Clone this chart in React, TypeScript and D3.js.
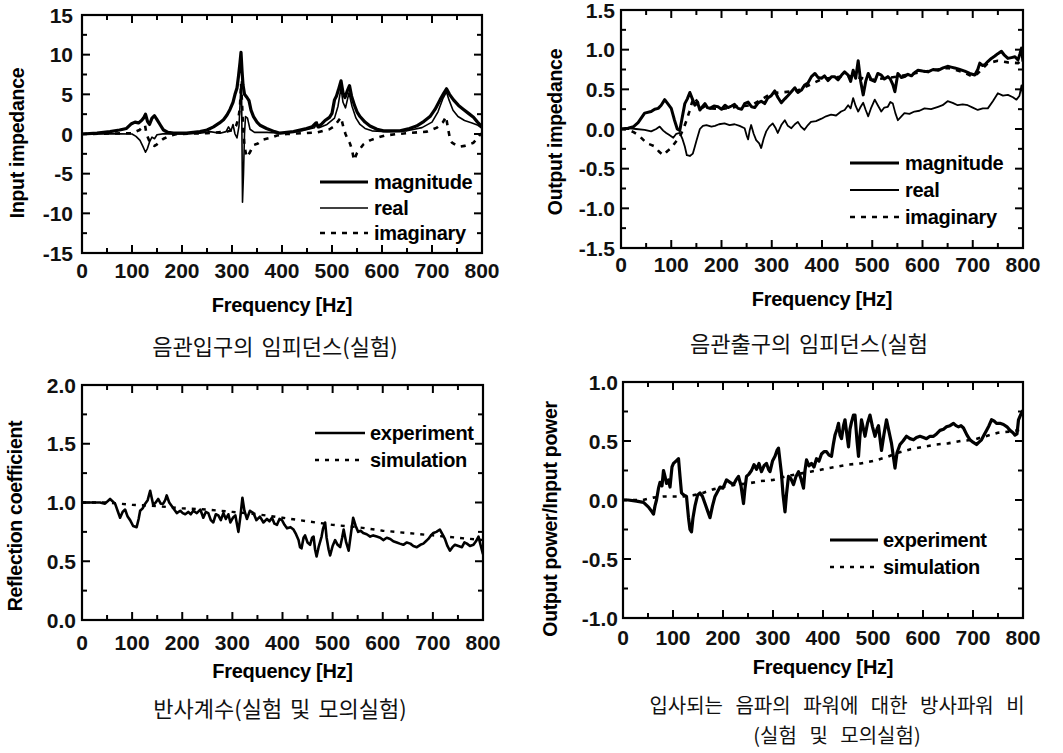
import React from 'react';
import * as d3 from 'd3';

type Pt = [number, number];

// shared x axis (Hz)
const freqTicks = [0, 100, 200, 300, 400, 500, 600, 700, 800];

// --- panel 1: input impedance ---
const inYTicks = [-15, -10, -5, 0, 5, 10, 15];
const inMag: Pt[] = [
  [0, 0], [30, 0.1], [56, 0.3], [75, 0.5], [89, 0.7], [99, 1.3], [106, 1.5], [113, 1.4], [119, 1.7], [123, 2.0],
  [127, 2.5], [131, 1.6], [135, 1.2], [140, 2.0], [145, 2.3], [150, 1.8], [156, 1.2], [163, 0.5], [172, 0.2], [183, 0.1],
  [209, 0.1], [236, 0.3], [250, 0.5], [263, 0.9], [275, 1.4], [283, 1.8], [290, 2.4], [296, 3.1], [302, 4.0], [306, 5.0],
  [310, 5.8], [313, 7.3], [316, 9.0], [318, 10.3], [320, 8.0], [322, 6.2], [325, 5.0], [330, 4.6], [334, 4.2], [338, 3.0],
  [343, 2.2], [350, 1.5], [356, 1.1], [369, 0.7], [385, 0.3], [396, 0.1], [423, 0.3], [449, 0.7], [460, 0.9], [468, 1.4],
  [472, 0.9], [480, 1.3], [486, 1.7], [495, 2.1], [500, 2.6], [505, 4.3], [509, 4.8], [513, 5.6], [518, 6.7], [522, 5.2],
  [526, 4.6], [531, 5.5], [535, 6.1], [539, 4.8], [545, 3.6], [550, 2.8], [556, 2.2], [566, 1.5], [576, 1.0], [590, 0.6],
  [603, 0.4], [636, 0.4], [655, 0.7], [669, 1.0], [684, 1.6], [696, 2.2], [706, 3.1], [716, 4.3], [724, 5.2], [729, 5.7],
  [735, 5.0], [743, 4.3], [753, 3.6], [763, 3.1], [773, 2.6], [783, 2.1], [791, 1.5], [800, 0.9],
];
const inReal: Pt[] = [
  [0, 0], [50, 0.05], [100, 0.0], [108, -0.3], [116, -0.8], [122, -1.6], [127, -2.3], [131, -1.8], [135, -1.0], [140, -0.4],
  [145, -0.6], [150, -0.1], [165, 0.05], [200, 0.0], [236, 0.1], [256, 0.3], [276, 0.1], [288, 0.3], [293, 0.9], [298, 0.4],
  [302, 1.2], [306, 0.0], [310, -0.5], [314, 1.0], [317, 5.0], [319, 6.6], [321, -8.6], [323, -5.0], [325, 0.0], [327, 2.2],
  [331, 2.0], [336, 0.6], [345, 0.2], [370, 0.2], [400, 0.1], [440, 0.4], [465, 0.8], [470, 1.5], [474, 0.8], [490, 1.2],
  [505, 2.0], [512, 3.5], [518, 5.8], [522, 4.0], [527, 3.3], [534, 5.2], [540, 3.5], [548, 2.0], [556, 1.2], [566, 0.7],
  [580, 0.4], [610, 0.3], [650, 0.4], [680, 0.8], [700, 1.5], [712, 2.8], [722, 4.5], [729, 5.3], [734, 4.3], [742, 3.0],
  [752, 2.2], [765, 1.7], [780, 1.4], [792, 1.1], [800, 0.7],
];
const inImag: Pt[] = [
  [0, 0], [100, 0.1], [115, 0.5], [122, 0.9], [126, 1.1], [129, 0.0], [134, -0.8], [139, -1.3], [145, -1.5], [150, -1.3],
  [157, -0.9], [163, -0.6], [176, -0.2], [190, 0], [250, 0.1], [290, 0.3], [300, 0.5], [308, 1.0], [313, 2.0], [316, 3.5],
  [318, 6.4], [320, 4.0], [322, 1.0], [325, -1.5], [329, -2.9], [335, -2.4], [343, -1.4], [352, -1.2], [363, -0.7], [376, -0.5],
  [390, -0.2], [410, 0], [470, 0.2], [495, 0.6], [505, 1.0], [512, 1.6], [518, 2.1], [523, 0.8], [527, 0.0], [531, -0.6],
  [536, -1.2], [540, -2.0], [544, -3.3], [550, -2.4], [557, -1.8], [563, -1.3], [576, -0.8], [589, -0.5], [605, -0.2], [630, 0],
  [690, 0.3], [710, 0.8], [722, 1.5], [728, 2.2], [732, 0.7], [736, -0.6], [740, -1.1], [748, -1.4], [756, -1.6], [765, -1.5],
  [775, -1.3], [783, -1.1], [790, -0.6], [796, -0.1], [800, 0.1],
];

// --- panel 2: output impedance ---
const outYTicks = [-1.5, -1.0, -0.5, 0, 0.5, 1.0, 1.5];
const outMag: Pt[] = [
  [0, 0], [14, 0.01], [25, 0.03], [34, 0.08], [47, 0.2], [60, 0.22], [67, 0.25], [74, 0.26], [80, 0.3], [87, 0.37],
  [93, 0.32], [100, 0.26], [106, 0.12], [112, 0.0], [117, -0.02], [122, 0.15], [127, 0.32], [132, 0.38], [137, 0.46], [142, 0.38],
  [147, 0.30], [152, 0.34], [157, 0.24], [162, 0.28], [167, 0.32], [172, 0.27], [177, 0.26], [185, 0.29], [193, 0.28], [200, 0.25],
  [207, 0.3], [213, 0.27], [220, 0.29], [226, 0.31], [233, 0.26], [240, 0.25], [246, 0.32], [253, 0.34], [260, 0.28], [266, 0.27],
  [273, 0.33], [279, 0.35], [286, 0.32], [292, 0.39], [299, 0.42], [306, 0.48], [312, 0.40], [319, 0.33], [326, 0.38], [332, 0.42],
  [339, 0.47], [346, 0.52], [352, 0.46], [359, 0.49], [365, 0.55], [372, 0.58], [379, 0.66], [386, 0.70], [392, 0.65], [399, 0.64],
  [405, 0.67], [412, 0.61], [419, 0.66], [425, 0.66], [432, 0.62], [439, 0.68], [445, 0.72], [452, 0.68], [457, 0.60], [462, 0.74],
  [467, 0.64], [472, 0.86], [477, 0.60], [482, 0.43], [487, 0.60], [492, 0.70], [498, 0.62], [505, 0.60], [511, 0.70], [518, 0.68],
  [524, 0.63], [531, 0.66], [536, 0.63], [541, 0.56], [545, 0.47], [551, 0.70], [558, 0.65], [564, 0.66], [571, 0.69], [578, 0.67],
  [584, 0.71], [591, 0.74], [600, 0.73], [611, 0.72], [621, 0.75], [631, 0.74], [641, 0.77], [650, 0.79], [657, 0.78], [664, 0.77],
  [674, 0.75], [684, 0.73], [694, 0.70], [704, 0.68], [710, 0.75], [714, 0.83], [719, 0.80], [724, 0.81], [730, 0.85], [737, 0.89],
  [744, 0.92], [750, 0.95], [757, 0.98], [763, 0.93], [770, 0.89], [777, 0.90], [784, 0.91], [790, 0.87], [794, 0.95], [797, 1.02],
  [800, 0.85],
];
const outReal: Pt[] = [
  [0, 0], [14, 0.01], [30, 0.0], [47, -0.01], [60, -0.03], [70, 0.0], [77, 0.03], [84, -0.02], [90, -0.05], [97, -0.08],
  [104, -0.11], [110, -0.06], [117, -0.05], [122, -0.12], [127, -0.22], [131, -0.33], [137, -0.34], [143, -0.31], [147, -0.22], [150, -0.15],
  [157, 0.0], [163, 0.04], [170, 0.05], [180, 0.03], [187, 0.04], [195, 0.06], [206, 0.07], [216, 0.05], [226, 0.06], [236, 0.04],
  [246, 0.01], [250, -0.08], [253, -0.13], [256, -0.02], [259, 0.05], [264, -0.06], [269, -0.14], [275, -0.18], [279, -0.24], [284, -0.12],
  [289, -0.03], [295, 0.03], [302, 0.07], [307, 0.02], [312, -0.05], [319, 0.05], [326, 0.11], [332, 0.04], [339, 0.01], [346, 0.06],
  [352, 0.09], [358, 0.03], [365, -0.01], [372, 0.05], [378, 0.09], [388, 0.1], [399, 0.13], [408, 0.16], [418, 0.18], [428, 0.17],
  [438, 0.22], [445, 0.24], [452, 0.30], [457, 0.26], [462, 0.39], [467, 0.29], [472, 0.22], [477, 0.28], [482, 0.33], [487, 0.24],
  [492, 0.16], [498, 0.27], [505, 0.37], [511, 0.30], [518, 0.22], [524, 0.27], [531, 0.28], [536, 0.34], [541, 0.32], [546, 0.20],
  [551, 0.11], [558, 0.16], [564, 0.20], [574, 0.19], [584, 0.22], [594, 0.23], [604, 0.26], [617, 0.25], [631, 0.28], [640, 0.30],
  [650, 0.35], [660, 0.33], [670, 0.30], [680, 0.31], [690, 0.30], [700, 0.27], [710, 0.24], [720, 0.26], [730, 0.26], [740, 0.35],
  [750, 0.45], [760, 0.42], [770, 0.43], [780, 0.40], [787, 0.37], [793, 0.42], [797, 0.55], [800, 0.42],
];
const outImag: Pt[] = [
  [0, 0], [15, -0.01], [25, -0.04], [35, -0.08], [45, -0.14], [51, -0.18], [60, -0.2], [67, -0.22], [75, -0.28], [84, -0.33],
  [92, -0.28], [100, -0.24], [108, -0.17], [117, -0.10], [124, 0.0], [130, 0.1], [136, 0.22], [141, 0.33], [146, 0.40], [152, 0.34],
  [160, 0.26], [170, 0.30], [180, 0.26], [200, 0.25], [230, 0.28], [260, 0.3], [300, 0.45], [350, 0.48], [400, 0.63], [450, 0.67],
  [500, 0.62], [550, 0.66], [600, 0.72], [650, 0.77], [680, 0.72], [700, 0.66], [710, 0.70], [730, 0.83], [750, 0.86], [770, 0.84],
  [790, 0.83], [800, 0.88],
];

// --- panel 3: reflection coefficient ---
const reflYTicks = [0, 0.5, 1.0, 1.5, 2.0];
const reflExp: Pt[] = [
  [0, 1.0], [20, 1.0], [36, 1.0], [46, 0.99], [56, 1.03], [66, 0.99], [71, 0.93], [76, 0.87], [81, 0.92], [86, 0.94],
  [91, 0.88], [96, 0.85], [102, 0.8], [109, 0.79], [113, 0.86], [116, 0.93], [121, 0.95], [126, 0.99], [131, 1.02], [136, 1.1],
  [139, 1.04], [142, 0.98], [147, 1.0], [152, 1.03], [157, 0.99], [162, 0.99], [166, 1.02], [169, 1.06], [174, 1.0], [179, 0.97],
  [184, 0.94], [189, 0.91], [196, 0.93], [201, 0.91], [206, 0.90], [212, 0.92], [217, 0.9], [222, 0.93], [229, 0.91], [236, 0.94],
  [242, 0.87], [247, 0.92], [252, 0.91], [257, 0.85], [262, 0.83], [267, 0.9], [272, 0.89], [277, 0.85], [282, 0.91], [287, 0.86],
  [292, 0.9], [296, 0.83], [301, 0.87], [306, 0.89], [309, 0.82], [312, 0.75], [316, 0.88], [320, 1.04], [324, 0.93], [329, 0.86],
  [335, 0.93], [342, 0.91], [348, 0.85], [355, 0.88], [362, 0.83], [369, 0.86], [374, 0.84], [379, 0.87], [384, 0.82], [389, 0.81],
  [394, 0.86], [399, 0.85], [404, 0.81], [409, 0.78], [416, 0.79], [422, 0.77], [427, 0.73], [432, 0.68], [435, 0.62], [438, 0.61],
  [442, 0.7], [445, 0.72], [450, 0.66], [455, 0.64], [459, 0.7], [462, 0.71], [465, 0.6], [468, 0.54], [472, 0.62], [478, 0.71],
  [481, 0.78], [485, 0.83], [488, 0.7], [492, 0.6], [495, 0.55], [500, 0.63], [505, 0.68], [510, 0.64], [515, 0.62], [519, 0.7],
  [522, 0.77], [527, 0.66], [532, 0.59], [537, 0.75], [541, 0.87], [546, 0.8], [551, 0.75], [556, 0.76], [561, 0.74], [568, 0.73],
  [575, 0.71], [581, 0.72], [588, 0.71], [595, 0.7], [601, 0.68], [608, 0.7], [615, 0.69], [621, 0.67], [628, 0.66], [634, 0.65],
  [641, 0.64], [648, 0.66], [655, 0.65], [661, 0.63], [668, 0.62], [675, 0.64], [681, 0.65], [686, 0.67], [691, 0.69], [696, 0.72],
  [701, 0.74], [707, 0.75], [714, 0.77], [719, 0.73], [724, 0.69], [729, 0.63], [734, 0.59], [739, 0.62], [744, 0.64], [751, 0.63],
  [758, 0.62], [763, 0.66], [768, 0.65], [774, 0.63], [781, 0.64], [786, 0.67], [791, 0.71], [795, 0.64], [800, 0.56],
];
const reflSim: Pt[] = [
  [0, 1.0], [50, 1.0], [100, 0.98], [150, 0.97], [200, 0.95], [250, 0.94], [300, 0.92], [350, 0.9], [400, 0.87],
  [450, 0.84], [500, 0.81], [550, 0.79], [600, 0.76], [650, 0.74], [700, 0.72], [750, 0.7], [800, 0.68],
];

// --- panel 4: output power / input power ---
const powYTicks = [-1.0, -0.5, 0, 0.5, 1.0];
const powExp: Pt[] = [
  [0, 0], [10, 0.0], [27, -0.01], [41, -0.02], [51, -0.06], [58, -0.1], [61, -0.12], [64, -0.05], [67, 0.0], [71, 0.1],
  [74, 0.15], [78, 0.12], [81, 0.25], [84, 0.2], [87, 0.14], [91, 0.17], [94, 0.11], [98, 0.28], [101, 0.31], [106, 0.33],
  [111, 0.35], [114, 0.2], [117, 0.06], [122, 0.04], [127, 0.03], [131, -0.15], [134, -0.25], [137, -0.27], [140, -0.15], [144, -0.05],
  [149, 0.04], [154, 0.06], [159, 0.03], [164, -0.03], [169, -0.09], [174, -0.15], [179, -0.05], [184, 0.03], [189, 0.07], [194, 0.11],
  [200, 0.1], [207, 0.17], [214, 0.15], [221, 0.13], [226, 0.17], [231, 0.2], [236, 0.12], [241, -0.03], [244, 0.1], [247, 0.2],
  [252, 0.22], [257, 0.25], [262, 0.3], [267, 0.26], [272, 0.31], [277, 0.24], [282, 0.29], [287, 0.31], [291, 0.26], [294, 0.24],
  [299, 0.33], [304, 0.37], [308, 0.42], [311, 0.44], [314, 0.33], [317, 0.22], [320, 0.05], [324, -0.1], [327, 0.05], [331, 0.2],
  [336, 0.18], [341, 0.13], [346, 0.2], [351, 0.24], [356, 0.18], [361, 0.1], [364, 0.25], [367, 0.34], [372, 0.29], [377, 0.31],
  [382, 0.28], [387, 0.35], [392, 0.33], [397, 0.39], [402, 0.41], [407, 0.41], [412, 0.38], [417, 0.37], [421, 0.48], [424, 0.55],
  [428, 0.6], [431, 0.65], [434, 0.55], [437, 0.52], [441, 0.63], [444, 0.68], [447, 0.58], [451, 0.45], [454, 0.6], [457, 0.66],
  [461, 0.72], [464, 0.72], [468, 0.5], [471, 0.37], [474, 0.55], [477, 0.68], [481, 0.6], [484, 0.54], [489, 0.65], [494, 0.72],
  [499, 0.62], [504, 0.54], [508, 0.6], [511, 0.63], [514, 0.52], [517, 0.42], [522, 0.56], [527, 0.68], [532, 0.58], [537, 0.48],
  [541, 0.36], [544, 0.27], [548, 0.4], [554, 0.47], [560, 0.5], [567, 0.54], [574, 0.52], [581, 0.51], [587, 0.53], [594, 0.54],
  [601, 0.53], [607, 0.52], [614, 0.54], [621, 0.54], [627, 0.56], [634, 0.59], [641, 0.6], [647, 0.62], [654, 0.63], [661, 0.65],
  [666, 0.63], [671, 0.62], [676, 0.63], [681, 0.61], [688, 0.55], [694, 0.51], [700, 0.49], [707, 0.47], [712, 0.49], [717, 0.51],
  [722, 0.55], [727, 0.59], [732, 0.63], [737, 0.68], [742, 0.67], [747, 0.65], [754, 0.65], [761, 0.64], [768, 0.62], [774, 0.59],
  [780, 0.57], [784, 0.55], [788, 0.56], [791, 0.68], [795, 0.72], [800, 0.76],
];
const powSim: Pt[] = [
  [0, 0], [40, 0], [60, 0.02], [80, 0.03], [100, 0.03], [120, 0.03], [140, 0.04], [160, 0.06], [180, 0.09], [200, 0.11],
  [225, 0.13], [250, 0.14], [275, 0.16], [300, 0.17], [325, 0.2], [350, 0.22], [375, 0.24], [400, 0.26], [425, 0.28], [450, 0.3],
  [475, 0.31], [500, 0.33], [525, 0.36], [550, 0.4], [575, 0.43], [600, 0.45], [625, 0.47], [650, 0.48], [675, 0.5], [700, 0.51],
  [725, 0.54], [750, 0.57], [775, 0.58], [800, 0.6],
];

const FONT = "'Liberation Sans', Arial, Helvetica, sans-serif";
const KFONT = "'Noto Sans CJK KR', sans-serif";

type Series = { name: string; data: Pt[]; width: number; dash?: string };
type Box = { l: number; r: number; t: number; b: number };

interface PanelProps {
  id: string;
  box: Box;
  yDomain: [number, number];
  yTicks: number[];
  yMinor: number;
  yFmt: (v: number) => string;
  yLabel: string;
  yLabelX: number;
  yLabelY: number;
  yLabGap: number;
  xLabY: number;
  xTitleY: number;
  series: Series[];
  legend: { x1: number; x2: number; tx: number; rows: number[] };
  caption: string[];
  captionX: number;
  captionY: number;
  captionSize?: number;
  captionGap?: number;
  captionWs?: number;
}

function Panel(p: PanelProps) {
  const { box } = p;
  const x = d3.scaleLinear().domain([0, 800]).range([box.l, box.r]);
  const y = d3.scaleLinear().domain(p.yDomain).range([box.b, box.t]);
  const line = d3.line<Pt>().x(d => x(d[0])).y(d => y(d[1]));

  const xMinor = d3.range(50, 800, 100);
  const yMinor = d3.range(p.yDomain[0] + p.yMinor, p.yDomain[1], p.yMinor * 2);
  const major = 8;
  const minor = 5;
  const capSize = p.captionSize ?? 22;
  const capGap = p.captionGap ?? 30;

  return (
    <g>
      <defs>
        <clipPath id={`clip-${p.id}`}>
          <rect x={box.l} y={box.t - 2} width={box.r - box.l} height={box.b - box.t + 4} />
        </clipPath>
      </defs>
      {/* ticks on all four sides, pointing inward */}
      <g stroke="#000" strokeWidth={2}>
        {freqTicks.map(v => (
          <g key={`xt${v}`}>
            <line x1={x(v)} x2={x(v)} y1={box.b} y2={box.b - major} />
            <line x1={x(v)} x2={x(v)} y1={box.t} y2={box.t + major} />
          </g>
        ))}
        {xMinor.map(v => (
          <g key={`xm${v}`}>
            <line x1={x(v)} x2={x(v)} y1={box.b} y2={box.b - minor} />
            <line x1={x(v)} x2={x(v)} y1={box.t} y2={box.t + minor} />
          </g>
        ))}
        {p.yTicks.map(v => (
          <g key={`yt${v}`}>
            <line x1={box.l} x2={box.l + major} y1={y(v)} y2={y(v)} />
            <line x1={box.r} x2={box.r - major} y1={y(v)} y2={y(v)} />
          </g>
        ))}
        {yMinor.map(v => (
          <g key={`ym${v}`}>
            <line x1={box.l} x2={box.l + minor} y1={y(v)} y2={y(v)} />
            <line x1={box.r} x2={box.r - minor} y1={y(v)} y2={y(v)} />
          </g>
        ))}
      </g>
      <g clipPath={`url(#clip-${p.id})`} fill="none" stroke="#000" strokeLinejoin="round">
        {p.series.map(s => (
          <path key={s.name} d={line(s.data) ?? ''} strokeWidth={s.width} strokeDasharray={s.dash} />
        ))}
      </g>
      <rect x={box.l} y={box.t} width={box.r - box.l} height={box.b - box.t} fill="none" stroke="#000" strokeWidth={2.2} />

      {/* tick labels */}
      <g fontFamily={FONT} fontWeight="bold" fontSize={21} fill="#111">
        {freqTicks.map(v => (
          <text key={`xl${v}`} x={x(v)} y={p.xLabY} textAnchor="middle">{v}</text>
        ))}
        {p.yTicks.map(v => (
          <text key={`yl${v}`} x={box.l - p.yLabGap} y={y(v)} dy="0.36em" textAnchor="end">{p.yFmt(v)}</text>
        ))}
      </g>
      <text x={(box.l + box.r) / 2} y={p.xTitleY} textAnchor="middle" fontFamily={FONT} fontWeight="bold" fontSize={20} letterSpacing={-0.3}>
        Frequency [Hz]
      </text>
      <text
        transform={`translate(${p.yLabelX},${p.yLabelY}) rotate(-90)`}
        textAnchor="middle"
        dy="0.36em"
        fontFamily={FONT}
        fontWeight="bold"
        fontSize={19.5}
        letterSpacing={-0.3}
      >
        {p.yLabel}
      </text>

      {/* legend */}
      <g fontFamily={FONT} fontWeight="bold" fontSize={20} letterSpacing={-0.3}>
        {p.series.map((s, i) => (
          <g key={`lg${s.name}`}>
            <line x1={p.legend.x1} x2={p.legend.x2} y1={p.legend.rows[i]} y2={p.legend.rows[i]} stroke="#000" strokeWidth={s.width} strokeDasharray={s.dash} />
            <text x={p.legend.tx} y={p.legend.rows[i]} dy="0.36em">{s.name}</text>
          </g>
        ))}
      </g>

      {/* korean caption */}
      <g fontFamily={KFONT} fontSize={capSize} fill="#111" textAnchor="middle" wordSpacing={p.captionWs ?? 3}>
        {p.caption.map((c, i) => (
          <text key={`cap${i}`} x={p.captionX} y={p.captionY + i * capGap}>{c}</text>
        ))}
      </g>
    </g>
  );
}

// plain hyphen for negatives, as in the original figure
const fmtInt = (v: number) => d3.format('d')(v).replace('\u2212', '-');
const fmt1 = (v: number) => d3.format('.1f')(v).replace('\u2212', '-');

export default function App() {
  return (
    <svg width={1063} height={753} style={{ position: 'absolute', left: 0, top: 0, background: '#fff' }}>
      <rect width={1063} height={753} fill="#fff" />
      <Panel
        id="p1"
        box={{ l: 82, r: 482, t: 15, b: 253 }}
        yDomain={[-15, 15]}
        yTicks={inYTicks}
        yMinor={2.5}
        yFmt={fmtInt}
        yLabel="Input impedance"
        yLabelX={17}
        yLabelY={143}
        yLabGap={9}
        xLabY={278}
        xTitleY={312}
        series={[
          { name: 'magnitude', data: inMag, width: 3.2 },
          { name: 'real', data: inReal, width: 1.6 },
          { name: 'imaginary', data: inImag, width: 2.6, dash: '5,6' },
        ]}
        legend={{ x1: 320, x2: 368, tx: 374, rows: [182, 208, 233] }}
        caption={['음관입구의 임피던스(실험)']}
        captionX={275}
        captionY={355}
      />
      <Panel
        id="p2"
        box={{ l: 621, r: 1023, t: 10, b: 248 }}
        yDomain={[-1.5, 1.5]}
        yTicks={outYTicks}
        yMinor={0.25}
        yFmt={fmt1}
        yLabel="Output impedance"
        yLabelX={555}
        yLabelY={132}
        yLabGap={6}
        xLabY={272}
        xTitleY={306}
        series={[
          { name: 'magnitude', data: outMag, width: 3.0 },
          { name: 'real', data: outReal, width: 1.8 },
          { name: 'imaginary', data: outImag, width: 2.6, dash: '5,6' },
        ]}
        legend={{ x1: 850, x2: 899, tx: 905, rows: [163, 190, 217] }}
        caption={['음관출구의 임피던스(실험']}
        captionX={809}
        captionY={352}
      />
      <Panel
        id="p3"
        box={{ l: 82, r: 483, t: 385, b: 620 }}
        yDomain={[0, 2]}
        yTicks={reflYTicks}
        yMinor={0.25}
        yFmt={fmt1}
        yLabel="Reflection coefficient"
        yLabelX={15}
        yLabelY={516}
        yLabGap={6}
        xLabY={650}
        xTitleY={678}
        series={[
          { name: 'experiment', data: reflExp, width: 2.6 },
          { name: 'simulation', data: reflSim, width: 2.4, dash: '4,6' },
        ]}
        legend={{ x1: 315, x2: 365, tx: 370, rows: [433, 460] }}
        caption={['반사계수(실험 및 모의실험)']}
        captionX={280}
        captionY={717}
      />
      <Panel
        id="p4"
        box={{ l: 623, r: 1023, t: 382, b: 618 }}
        yDomain={[-1, 1]}
        yTicks={powYTicks}
        yMinor={0.25}
        yFmt={fmt1}
        yLabel="Output power/Input power"
        yLabelX={550}
        yLabelY={519}
        yLabGap={5}
        xLabY={645}
        xTitleY={674}
        series={[
          { name: 'experiment', data: powExp, width: 3.2 },
          { name: 'simulation', data: powSim, width: 2.6, dash: '4,6' },
        ]}
        legend={{ x1: 830, x2: 878, tx: 883, rows: [540, 567] }}
        caption={['입사되는 음파의 파워에 대한 방사파워 비', '(실험 및 모의실험)']}
        captionX={837}
        captionY={713}
        captionSize={20}
        captionGap={29.5}
        captionWs={8}
      />
    </svg>
  );
}
